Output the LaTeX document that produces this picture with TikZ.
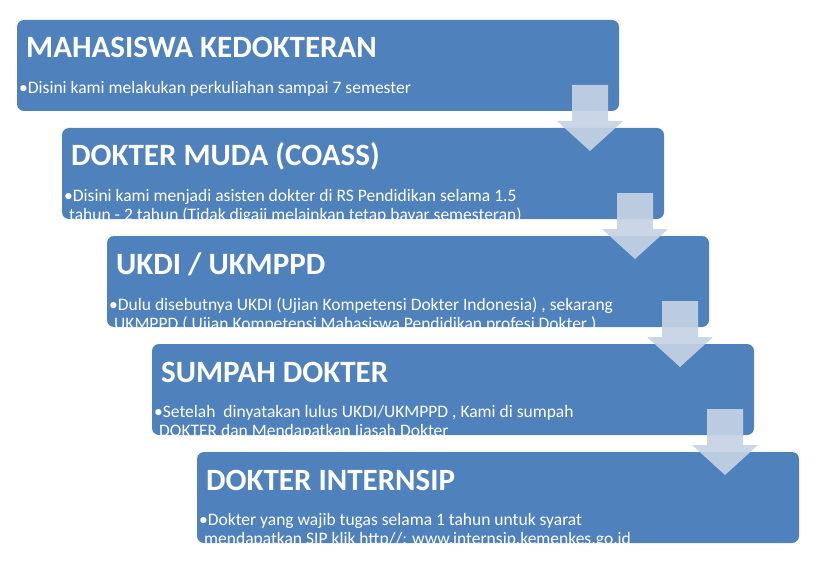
\documentclass[tikz,border=0pt]{standalone}
\usepackage{fontspec}
\setmainfont{Carlito}
\definecolor{boxblue}{HTML}{4F81BD}
\definecolor{arrowc}{HTML}{C6D3E3}
\begin{document}
\begin{tikzpicture}[x=1pt,y=-1pt,
  stagebox/.style={fill=boxblue,rounded corners=7pt},
  ttl/.style={anchor=base west,text=white,font=\bfseries\fontsize{31}{33}\selectfont,inner sep=0pt},
  body/.style={anchor=north west,text=white,font=\fontsize{17.5}{19}\selectfont,inner sep=0pt,align=left},
  downarrow/.style={fill=arrowc,fill opacity=0.92}]
\useasboundingbox (0,0) rectangle (822,567);
\newcommand{\stagebx}[3]{%
  \pgfmathsetmacro{\xl}{17+45*(#1-1)}%
  \pgfmathsetmacro{\yt}{20+108*(#1-1)}%
  \fill[stagebox] (\xl,\yt) rectangle ++(602,91);
  \node[ttl] (t#1) at (\xl+9,\yt+38) {#2};
  \node[body] (d#1) at (\xl+2,\yt+61) {#3};
}
\stagebx{1}{MAHASISWA KEDOKTERAN}{\textbullet Disini kami melakukan perkuliahan sampai 7 semester}
\stagebx{2}{DOKTER MUDA (COASS)}{\textbullet Disini kami menjadi asisten dokter di RS Pendidikan selama 1.5\\\hspace*{5pt}tahun - 2 tahun (Tidak digaji melainkan tetap bayar semesteran)}
\stagebx{3}{UKDI / UKMPPD}{\textbullet Dulu disebutnya UKDI (Ujian Kompetensi Dokter Indonesia) , sekarang\\\hspace*{5pt}UKMPPD ( Ujian Kompetensi Mahasiswa Pendidikan profesi Dokter )}
\stagebx{4}{SUMPAH DOKTER}{\textbullet Setelah \ dinyatakan lulus UKDI/UKMPPD , Kami di sumpah\\\hspace*{5pt}DOKTER dan Mendapatkan Ijasah Dokter}
\stagebx{5}{DOKTER INTERNSIP}{\textbullet Dokter yang wajib tugas selama 1 tahun untuk syarat\\\hspace*{5pt}mendapatkan SIP klik http//: www.internsip.kemenkes.go.id}
\foreach \i in {1,2,3,4}{
  \pgfmathsetmacro{\cx}{590+45*(\i-1)}
  \pgfmathsetmacro{\yt}{85+108*(\i-1)}
  \fill[downarrow] (\cx-18,\yt) -- (\cx+18,\yt) -- (\cx+18,\yt+36) -- (\cx+33,\yt+36)
    -- (\cx,\yt+66) -- (\cx-33,\yt+36) -- (\cx-18,\yt+36) -- cycle;
}
\end{tikzpicture}
\end{document}
